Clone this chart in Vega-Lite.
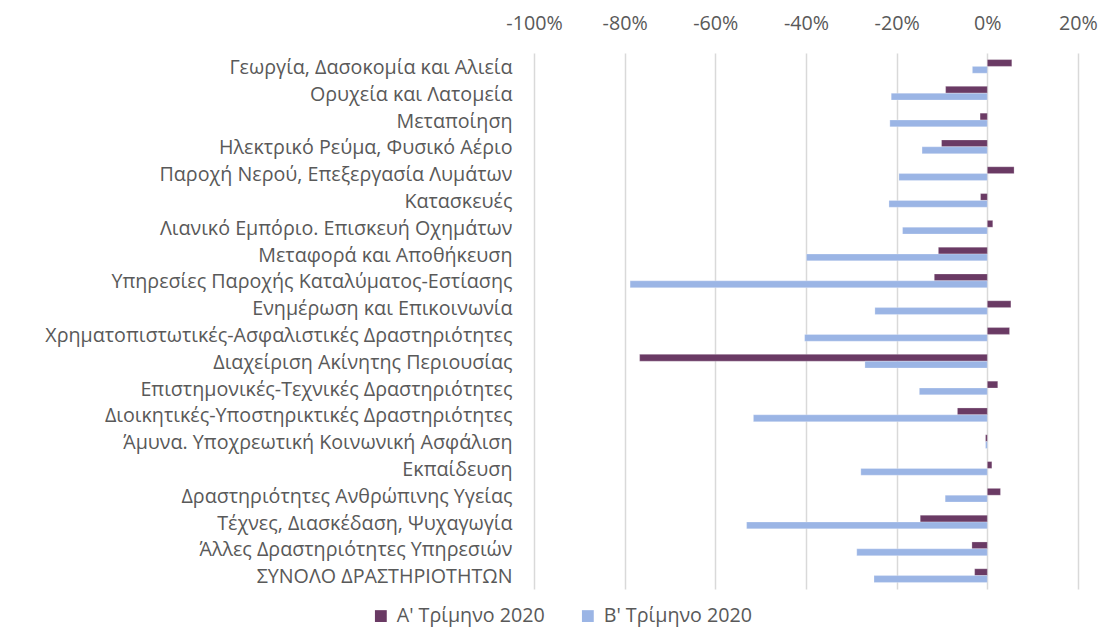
{
  "$schema": "https://vega.github.io/schema/vega-lite/v6.json",
  "width": 544,
  "height": 536,
  "autosize": "none",
  "padding": {"left": 534, "top": 53, "right": 21, "bottom": 40},
  "background": "white",
  "config": {
    "font": "Open Sans",
    "view": {"stroke": null}
  },
  "data": {
    "values": [
      {"cat": "Γεωργία, Δασοκομία και Αλιεία", "s": "Α' Τρίμηνο 2020", "v": 0.054},
      {"cat": "Γεωργία, Δασοκομία και Αλιεία", "s": "Β' Τρίμηνο 2020", "v": -0.033},
      {"cat": "Ορυχεία και Λατομεία", "s": "Α' Τρίμηνο 2020", "v": -0.092},
      {"cat": "Ορυχεία και Λατομεία", "s": "Β' Τρίμηνο 2020", "v": -0.212},
      {"cat": "Μεταποίηση", "s": "Α' Τρίμηνο 2020", "v": -0.016},
      {"cat": "Μεταποίηση", "s": "Β' Τρίμηνο 2020", "v": -0.215},
      {"cat": "Ηλεκτρικό Ρεύμα, Φυσικό Αέριο", "s": "Α' Τρίμηνο 2020", "v": -0.101},
      {"cat": "Ηλεκτρικό Ρεύμα, Φυσικό Αέριο", "s": "Β' Τρίμηνο 2020", "v": -0.144},
      {"cat": "Παροχή Νερού, Επεξεργασία Λυμάτων", "s": "Α' Τρίμηνο 2020", "v": 0.059},
      {"cat": "Παροχή Νερού, Επεξεργασία Λυμάτων", "s": "Β' Τρίμηνο 2020", "v": -0.195},
      {"cat": "Κατασκευές", "s": "Α' Τρίμηνο 2020", "v": -0.015},
      {"cat": "Κατασκευές", "s": "Β' Τρίμηνο 2020", "v": -0.217},
      {"cat": "Λιανικό Εμπόριο. Επισκευή Οχημάτων", "s": "Α' Τρίμηνο 2020", "v": 0.012},
      {"cat": "Λιανικό Εμπόριο. Επισκευή Οχημάτων", "s": "Β' Τρίμηνο 2020", "v": -0.187},
      {"cat": "Μεταφορά και Αποθήκευση", "s": "Α' Τρίμηνο 2020", "v": -0.108},
      {"cat": "Μεταφορά και Αποθήκευση", "s": "Β' Τρίμηνο 2020", "v": -0.399},
      {"cat": "Υπηρεσίες Παροχής Καταλύματος-Εστίασης", "s": "Α' Τρίμηνο 2020", "v": -0.117},
      {"cat": "Υπηρεσίες Παροχής Καταλύματος-Εστίασης", "s": "Β' Τρίμηνο 2020", "v": -0.788},
      {"cat": "Ενημέρωση και Επικοινωνία", "s": "Α' Τρίμηνο 2020", "v": 0.052},
      {"cat": "Ενημέρωση και Επικοινωνία", "s": "Β' Τρίμηνο 2020", "v": -0.248},
      {"cat": "Χρηματοπιστωτικές-Ασφαλιστικές Δραστηριότητες", "s": "Α' Τρίμηνο 2020", "v": 0.049},
      {"cat": "Χρηματοπιστωτικές-Ασφαλιστικές Δραστηριότητες", "s": "Β' Τρίμηνο 2020", "v": -0.403},
      {"cat": "Διαχείριση Ακίνητης Περιουσίας", "s": "Α' Τρίμηνο 2020", "v": -0.767},
      {"cat": "Διαχείριση Ακίνητης Περιουσίας", "s": "Β' Τρίμηνο 2020", "v": -0.270},
      {"cat": "Επιστημονικές-Τεχνικές Δραστηριότητες", "s": "Α' Τρίμηνο 2020", "v": 0.023},
      {"cat": "Επιστημονικές-Τεχνικές Δραστηριότητες", "s": "Β' Τρίμηνο 2020", "v": -0.150},
      {"cat": "Διοικητικές-Υποστηρικτικές Δραστηριότητες", "s": "Α' Τρίμηνο 2020", "v": -0.066},
      {"cat": "Διοικητικές-Υποστηρικτικές Δραστηριότητες", "s": "Β' Τρίμηνο 2020", "v": -0.516},
      {"cat": "Άμυνα. Υποχρεωτική Κοινωνική Ασφάλιση", "s": "Α' Τρίμηνο 2020", "v": -0.004},
      {"cat": "Άμυνα. Υποχρεωτική Κοινωνική Ασφάλιση", "s": "Β' Τρίμηνο 2020", "v": -0.004},
      {"cat": "Εκπαίδευση", "s": "Α' Τρίμηνο 2020", "v": 0.010},
      {"cat": "Εκπαίδευση", "s": "Β' Τρίμηνο 2020", "v": -0.279},
      {"cat": "Δραστηριότητες Ανθρώπινης Υγείας", "s": "Α' Τρίμηνο 2020", "v": 0.029},
      {"cat": "Δραστηριότητες Ανθρώπινης Υγείας", "s": "Β' Τρίμηνο 2020", "v": -0.093},
      {"cat": "Τέχνες, Διασκέδαση, Ψυχαγωγία", "s": "Α' Τρίμηνο 2020", "v": -0.148},
      {"cat": "Τέχνες, Διασκέδαση, Ψυχαγωγία", "s": "Β' Τρίμηνο 2020", "v": -0.531},
      {"cat": "Άλλες Δραστηριότητες Υπηρεσιών", "s": "Α' Τρίμηνο 2020", "v": -0.034},
      {"cat": "Άλλες Δραστηριότητες Υπηρεσιών", "s": "Β' Τρίμηνο 2020", "v": -0.288},
      {"cat": "ΣΥΝΟΛΟ ΔΡΑΣΤΗΡΙΟΤΗΤΩΝ", "s": "Α' Τρίμηνο 2020", "v": -0.028},
      {"cat": "ΣΥΝΟΛΟ ΔΡΑΣΤΗΡΙΟΤΗΤΩΝ", "s": "Β' Τρίμηνο 2020", "v": -0.250}
    ]
  },
  "mark": {"type": "bar", "stroke": "white", "strokeWidth": 0.5, "strokeOpacity": 0.5},
  "encoding": {
    "y": {
      "field": "cat",
      "type": "nominal",
      "sort": null,
      "scale": {"paddingInner": 0.49, "paddingOuter": 0.245},
      "axis": {
        "title": null,
        "domain": false,
        "ticks": false,
        "labelPadding": 22,
        "labelFontSize": 19.7,
        "labelColor": "#595959",
        "labelLimit": 600,
        "labelOffset": 1.5
      }
    },
    "yOffset": {"field": "s", "type": "nominal", "scale": {"paddingInner": 0}},
    "x": {
      "field": "v",
      "type": "quantitative",
      "scale": {"domain": [-1, 0.2], "nice": false, "zero": false},
      "axis": {
        "orient": "top",
        "title": null,
        "format": ".0%",
        "labelExpr": "replace(datum.label, '−', '-')",
        "values": [-1, -0.8, -0.6, -0.4, -0.2, 0, 0.2],
        "domain": false,
        "ticks": false,
        "labelFlush": false,
        "labelBound": false,
        "labelPadding": 20,
        "labelFontSize": 19.7,
        "labelColor": "#595959",
        "grid": true,
        "gridColor": "#D9D9D9",
        "gridWidth": 1.5
      }
    },
    "color": {
      "field": "s",
      "type": "nominal",
      "scale": {"domain": ["Α' Τρίμηνο 2020", "Β' Τρίμηνο 2020"], "range": ["#6A3A64", "#9BB5E5"]},
      "legend": {
        "title": null,
        "orient": "none",
        "direction": "horizontal",
        "legendX": -163,
        "legendY": 553,
        "symbolType": "square",
        "symbolSize": 140,
        "symbolStrokeWidth": 0,
        "labelFontSize": 19.7,
        "labelColor": "#595959",
        "labelOffset": 6,
        "columnPadding": 33
      }
    }
  }
}
